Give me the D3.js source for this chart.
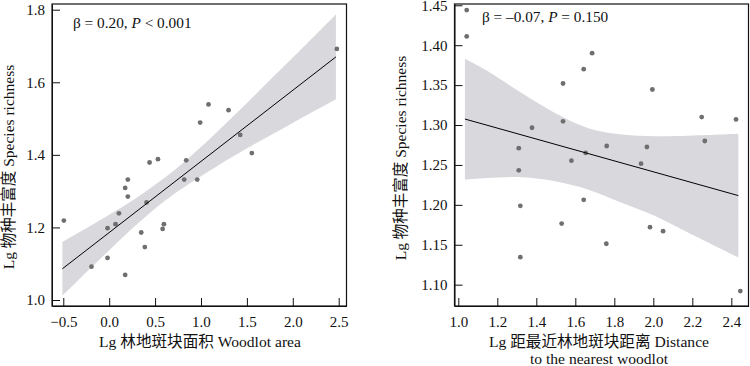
<!DOCTYPE html>
<html>
<head>
<meta charset="utf-8">
<script src="https://cdn.jsdelivr.net/npm/d3@7"></script>
<style>
  body { margin: 0; background: #fff; }
  svg text { font-family: "Liberation Serif", "Times New Roman", "Noto Sans CJK SC", serif; fill: #111; }
</style>
</head>
<body>
<svg id="chart" width="750" height="366"></svg>
<script>
// ---- panel A: woodlot area ----
var areaX = [-0.494, -0.193, -0.018, -0.018, 0.069, 0.106, 0.174, 0.203, 0.203, 0.174, 0.349, 0.388, 0.407,
    0.440, 0.531, 0.582, 0.596, 0.817, 0.839, 0.959, 0.991, 1.082, 1.300, 1.427, 1.554, 2.480];
var areaY = [1.219, 1.092, 1.116, 1.198, 1.209, 1.239, 1.309, 1.332, 1.285, 1.069, 1.186, 1.146, 1.269,
    1.379, 1.388, 1.196, 1.209, 1.332, 1.385, 1.332, 1.489, 1.539, 1.523, 1.455, 1.405, 1.692];
var areaFitX = [-0.51, 2.47];
var areaFitY = [1.086, 1.670];
var areaBandX = [-0.51, 0, 0.3, 0.6, 0.9, 1.2, 1.6, 2.0, 2.47];
var areaBandLo = [1.012, 1.137, 1.208, 1.272, 1.325, 1.373, 1.432, 1.488, 1.553];
var areaBandHi = [1.160, 1.235, 1.282, 1.336, 1.399, 1.469, 1.568, 1.668, 1.787];
var areaXTicks = [-0.5, 0, 0.5, 1.0, 1.5, 2.0, 2.5];
var areaYTicks = [1.0, 1.2, 1.4, 1.6, 1.8];

// ---- panel B: distance to nearest woodlot ----
var distX = [1.043, 1.043, 1.686, 1.643, 1.537, 1.995, 2.248, 2.424, 1.378, 1.537, 2.264, 1.310, 1.761,
    1.967, 1.653, 1.580, 1.937, 1.310, 1.318, 1.643, 1.530, 1.983, 2.050, 1.759, 1.318, 2.446];
var distY = [1.444, 1.411, 1.390, 1.370, 1.352, 1.3445, 1.310, 1.307, 1.2966, 1.3046, 1.280, 1.271, 1.2737,
    1.2725, 1.265, 1.2554, 1.2516, 1.2433, 1.1988, 1.2063, 1.1766, 1.172, 1.167, 1.1513, 1.1345, 1.092];
var distFitX = [1.034, 2.436];
var distFitY = [1.3075, 1.2116];
var distBandX = [1.034, 1.154, 1.325, 1.496, 1.667, 1.838, 2.009, 2.18, 2.436];
var distBandLo = [1.2316, 1.2337, 1.2345, 1.2295, 1.219, 1.2025, 1.186, 1.165, 1.134];
var distBandHi = [1.383, 1.367, 1.340, 1.315, 1.296, 1.288, 1.286, 1.2866, 1.289];
var distXTicks = [1.0, 1.2, 1.4, 1.6, 1.8, 2.0, 2.2, 2.4];
var distYTicks = [1.10, 1.15, 1.20, 1.25, 1.30, 1.35, 1.40, 1.45];

var svg = d3.select("#chart");

function panel(opt) {
    var x = d3.scaleLinear().domain(opt.xDomain).range(opt.xRange);
    var y = d3.scaleLinear().domain(opt.yDomain).range([306, 4]);
    var g = svg.append("g");

    var band = opt.bandX.map(function(d, i) { return { x: d, lo: opt.bandLo[i], hi: opt.bandHi[i] }; });
    g.append("path")
        .datum(band)
        .attr("fill", "#d9d8dc")
        .attr("d", d3.area()
            .curve(d3.curveCatmullRom)
            .x(function(d) { return x(d.x); })
            .y0(function(d) { return y(d.lo); })
            .y1(function(d) { return y(d.hi); }));

    var pts = opt.px.map(function(d, i) { return [d, opt.py[i]]; });
    g.selectAll("circle.pt")
        .data(pts)
        .enter().append("circle")
        .attr("class", "pt")
        .attr("cx", function(d) { return x(d[0]); })
        .attr("cy", function(d) { return y(d[1]); })
        .attr("r", 2.4)
        .attr("fill", "#6f6f6f");

    var fit = opt.fitX.map(function(d, i) { return [d, opt.fitY[i]]; });
    g.append("path")
        .datum(fit)
        .attr("fill", "none")
        .attr("stroke", "#000")
        .attr("stroke-width", 1)
        .attr("d", d3.line().x(function(d) { return x(d[0]); }).y(function(d) { return y(d[1]); }));

    var ax = g.append("g")
        .attr("transform", "translate(0,306)")
        .call(d3.axisBottom(x).tickValues(opt.xTicks).tickFormat(d3.format(".1f"))
            .tickSizeInner(-8).tickSizeOuter(0).tickPadding(10));
    var ay = g.append("g")
        .attr("transform", "translate(" + opt.xRange[0] + ",0)")
        .call(d3.axisLeft(y).tickValues(opt.yTicks).tickFormat(d3.format(opt.yFmt))
            .tickSizeInner(-8).tickSizeOuter(0).tickPadding(7));
    [ax, ay].forEach(function(a) {
        a.selectAll("text").attr("font-size", 15).attr("fill", "#111")
            .style("font-family", "'Liberation Serif', serif");
        a.selectAll("line, path").attr("stroke", "#111");
    });

    g.append("rect")
        .attr("x", opt.xRange[0]).attr("y", 4)
        .attr("width", opt.xRange[1] - opt.xRange[0]).attr("height", 302)
        .attr("fill", "none").attr("stroke", "#111").attr("stroke-width", 1.2);

    var st = g.append("text").attr("x", opt.statX).attr("y", opt.statY).attr("font-size", 15.3);
    st.append("tspan").text(opt.stat[0]);
    st.append("tspan").attr("font-style", "italic").text("P");
    st.append("tspan").text(opt.stat[1]);

    g.append("text")
        .attr("transform", "translate(" + opt.yTitleX + "," + opt.yTitleY + ") rotate(-90)")
        .attr("text-anchor", "middle")
        .attr("font-size", 15.5)
        .text("Lg 物种丰富度 Species richness");

    opt.xTitle.forEach(function(t, i) {
        g.append("text")
            .attr("x", opt.xTitleX).attr("y", 347 + i * 16.5)
            .attr("text-anchor", "middle")
            .attr("font-size", 15.6)
            .text(t);
    });
}

panel({
    px: areaX, py: areaY, fitX: areaFitX, fitY: areaFitY,
    bandX: areaBandX, bandLo: areaBandLo, bandHi: areaBandHi,
    xTicks: areaXTicks, yTicks: areaYTicks, yFmt: ".1f",
    xDomain: [-0.623, 2.585], xRange: [52, 346.5], yDomain: [0.9835, 1.8157],
    stat: ["β = 0.20, ", " < 0.001"], statX: 73, statY: 28,
    yTitleX: 14, yTitleY: 167,
    xTitle: ["Lg 林地斑块面积 Woodlot area"], xTitleX: 200
});

panel({
    px: distX, py: distY, fitX: distFitX, fitY: distFitY,
    bandX: distBandX, bandLo: distBandLo, bandHi: distBandHi,
    xTicks: distXTicks, yTicks: distYTicks, yFmt: ".2f",
    xDomain: [0.9805, 2.488], xRange: [454.5, 748.5], yDomain: [1.0733, 1.4516],
    stat: ["β = –0.07, ", " = 0.150"], statX: 482, statY: 22,
    yTitleX: 406, yTitleY: 158,
    xTitle: ["Lg 距最近林地斑块距离 Distance", "to the nearest woodlot"], xTitleX: 599
});
</script>
</body>
</html>
